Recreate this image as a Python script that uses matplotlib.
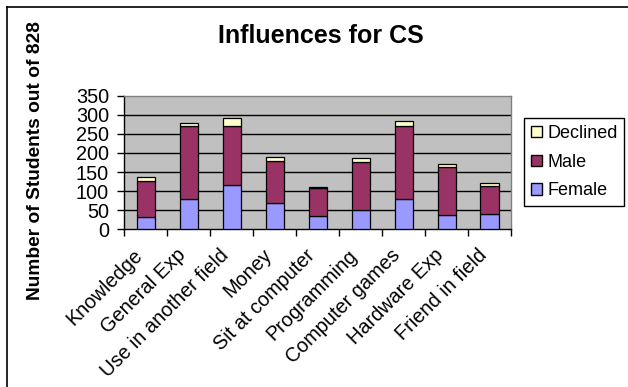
import numpy as np
import matplotlib.pyplot as plt
from matplotlib.lines import Line2D
from matplotlib.patches import Patch
from matplotlib.transforms import ScaledTranslation

# Influences for CS - stacked counts
categories = ['Knowledge', 'General Exp', 'Use in another field', 'Money',
              'Sit at computer', 'Programming', 'Computer games',
              'Hardware Exp', 'Friend in field']
female = [32, 79, 116, 70, 35, 50, 79, 37, 41]
male = [94, 191, 154, 110, 72, 127, 191, 127, 72]
declined = [10, 8, 21, 10, 4, 9, 14, 6, 7]
y_ticks = [0, 50, 100, 150, 200, 250, 300, 350]

plt.rcParams['font.family'] = ['Liberation Sans', 'DejaVu Sans']

fig = plt.figure(figsize=(6.28, 3.87), dpi=100)
W, H = 628.0, 387.0

# plot area in pixel coords (left, top, right, bottom)
x0, y0, x1, y1 = 124.3, 95.7, 511.0, 229.3
ax = fig.add_axes([x0 / W, 1 - y1 / H, (x1 - x0) / W, (y1 - y0) / H])
ax.set_facecolor('#c0c0c0')

x = np.arange(len(categories))
bw = 0.42
female = np.array(female)
male = np.array(male)
declined = np.array(declined)

ax.bar(x, female, bw, color='#9999ff', edgecolor='black', linewidth=0.9, zorder=3)
ax.bar(x, male, bw, bottom=female, color='#993366', edgecolor='black', linewidth=0.9, zorder=3)
ax.bar(x, declined, bw, bottom=female + male, color='#ffffcc', edgecolor='black', linewidth=0.9, zorder=3)

ax.set_xlim(-0.5, len(categories) - 0.5)
ax.set_ylim(0, 350)
ax.set_yticks(y_ticks)
ax.set_yticklabels([str(v) for v in y_ticks], fontsize=14.3)
for v in y_ticks[1:-1]:
    ax.axhline(v, color='black', linewidth=1.0, zorder=1)

ax.set_xticks(x)
ax.set_xticklabels(categories, rotation=45, rotation_mode='anchor',
                   ha='right', va='center', fontsize=14.3)
ax.set_xticks(np.arange(len(categories) + 1) - 0.5, minor=True)
ax.tick_params(axis='x', which='major', length=0, pad=16.5)
ax.tick_params(axis='x', which='minor', length=5, width=1, color='black', direction='out')
ax.tick_params(axis='y', length=5, width=1, color='black', direction='out', pad=6)
shift = ScaledTranslation(-6 / 100, 0, fig.dpi_scale_trans)
for lab in ax.get_xticklabels():
    lab.set_transform(lab.get_transform() + shift)

ax.spines['left'].set_color('black')
ax.spines['bottom'].set_color('black')
ax.spines['top'].set_color('#808080')
ax.spines['right'].set_color('#808080')
for s in ax.spines.values():
    s.set_linewidth(1.0)

fig.text(321 / W, 1 - 36 / H, 'Influences for CS', ha='center', va='center',
         fontsize=18, fontweight='bold')
fig.text(36 / W, 1 - 161 / H, 'Number of Students out of 828', ha='center',
         va='center', rotation=90, fontsize=13.8, fontweight='bold')

handles = [Patch(facecolor='#ffffcc', edgecolor='black', label='Declined'),
           Patch(facecolor='#993366', edgecolor='black', label='Male'),
           Patch(facecolor='#9999ff', edgecolor='black', label='Female')]
leg = fig.legend(handles=handles, loc='upper left', bbox_to_anchor=(524 / W, 1 - 118 / H),
                 fontsize=13, frameon=True, fancybox=False, edgecolor='black',
                 framealpha=1, handlelength=0.6, handleheight=0.6, handletextpad=0.3,
                 labelspacing=0.65, borderpad=0.38, borderaxespad=0)
leg.get_frame().set_linewidth(1.0)

# outer chart border (only top and left visible)
fig.add_artist(Line2D([7 / W, 7 / W], [0, 1 - 7 / H], color='black', linewidth=1.2))
fig.add_artist(Line2D([7 / W, 1], [1 - 7 / H, 1 - 7 / H], color='black', linewidth=1.2))

fig.savefig('out.png', dpi=100)
